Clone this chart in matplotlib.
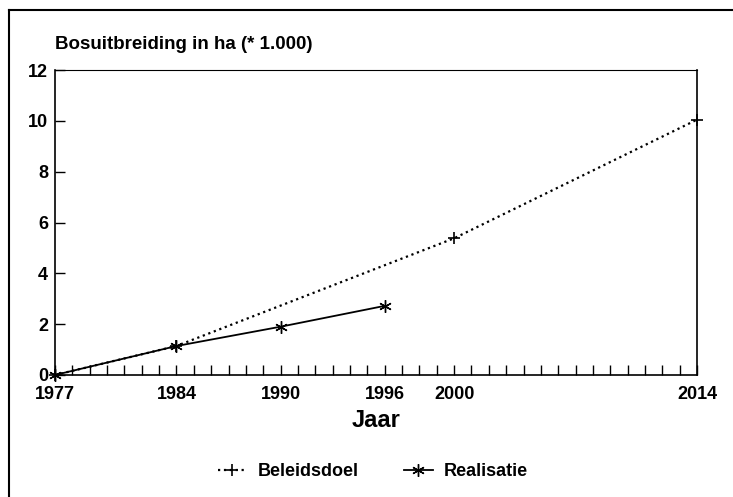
import numpy as np
import matplotlib.pyplot as plt
plt.switch_backend('agg')
from matplotlib.lines import Line2D

# Data
doel_jaar = [1977, 1984, 2000, 2014]
doel_ha = [0.0, 1.14, 5.38, 10.05]

real_jaar = [1977, 1984, 1990, 1996]
real_ha = [0.0, 1.14, 1.90, 2.72]

x_ticks = [1977, 1984, 1990, 1996, 2000, 2014]
y_ticks = [0, 2, 4, 6, 8, 10, 12]

plt.rcParams['font.family'] = ['Liberation Sans', 'DejaVu Sans']
plt.rcParams['font.weight'] = 'bold'

fig = plt.figure(figsize=(7.33, 4.97), dpi=100)
ax = fig.add_axes([0.075, 0.2455, 0.876, 0.6135])

ax.plot(doel_jaar, doel_ha, color='black', linestyle=':', linewidth=1.6,
        marker='+', markersize=9, markeredgewidth=1.2, label='Beleidsdoel',
        clip_on=False)
ax.plot(real_jaar, real_ha, color='black', linestyle='-', linewidth=1.3,
        marker=(6, 2, 0), markersize=9, markeredgewidth=1.0, label='Realisatie',
        clip_on=False)

ax.set_xlim(1977, 2014)
ax.set_ylim(0, 12)
ax.set_xticks(x_ticks)
ax.set_xticks(np.arange(1977, 2015), minor=True)
ax.set_yticks(y_ticks)
ax.tick_params(axis='x', which='both', direction='in', length=7, width=1,
               labelsize=13, pad=8)
ax.tick_params(axis='y', which='major', direction='in', length=7, width=1,
               labelsize=13, pad=5)
for lab in ax.get_xticklabels() + ax.get_yticklabels():
    lab.set_fontweight('bold')
for s in ax.spines.values():
    s.set_linewidth(1.2)
ax.spines['top'].set_linewidth(0.8)

ax.set_xlabel('Jaar', fontsize=17, fontweight='bold', labelpad=4)
fig.text(0.075, 0.893, 'Bosuitbreiding in ha (* 1.000)', fontsize=13.5,
         fontweight='bold', ha='left', va='bottom')

leg = ax.legend(loc='upper center', bbox_to_anchor=(0.495, -0.235), ncol=2,
                frameon=False, fontsize=13, handlelength=1.6,
                columnspacing=2.5, handletextpad=0.6)
for t in leg.get_texts():
    t.set_fontweight('bold')

# page frame: only top and left edges visible
fig.add_artist(Line2D([0.0123, 1.0], [0.979, 0.979], transform=fig.transFigure,
                      color='black', linewidth=1.5))
fig.add_artist(Line2D([0.0123, 0.0123], [0.0, 0.979], transform=fig.transFigure,
                      color='black', linewidth=1.5))

fig.savefig('out.png', dpi=100)
